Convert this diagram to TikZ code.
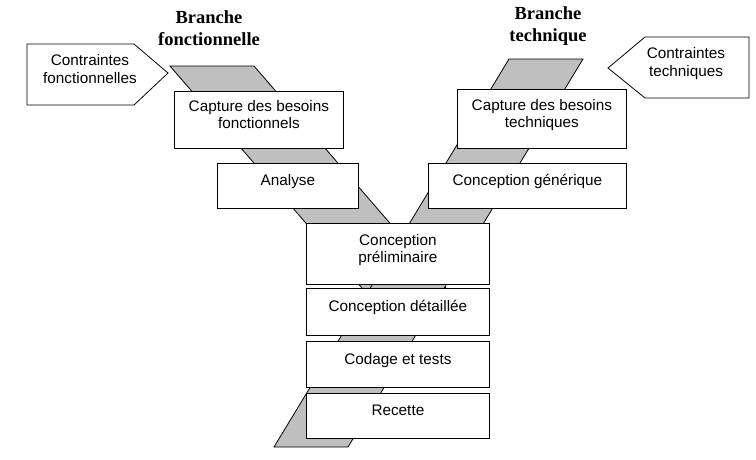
\documentclass[tikz,border=0pt]{standalone}
\usepackage{fontspec}
\setmainfont{Liberation Sans}
\newfontfamily\titlefont{Liberation Serif}
\usepackage{tikz}

\begin{document}
\begin{tikzpicture} [x=1pt, y=-1pt, line width=0.8pt]

\tikzset{stage/.style = {shape=rectangle,draw,fill=white,anchor=north west,align=center,inner sep=0pt,
  text height=11pt,text depth=11pt,font=\fontsize{15.3}{17.7}\selectfont}}
\tikzset{twoline/.style = {text height=28.7pt,text depth=11pt}}
\tikzset{band/.style = {draw,fill=gray!50}}
\tikzset{note/.style = {align=center,inner sep=0pt,font=\fontsize{15.3}{17.7}\selectfont}}
\tikzset{branch/.style = {align=center,inner sep=0pt,text height=35pt,text depth=13pt,
  font=\titlefont\bfseries\fontsize{18.5}{22}\selectfont}}
\useasboundingbox (0,0) rectangle (756,459);
% bands
\draw[band] (170,66) -- (254,66) -- (465,310) -- (381,310) -- cycle;
\draw[band] (509,59) -- (583,59) -- (348,447) -- (274,447) -- cycle;
% stages
\node[stage,twoline,minimum width=169,minimum height=57] (cbf) at (174,91) {Capture des besoins\\fonctionnels};
\node[stage,minimum width=141,minimum height=45] (ana) at (217,163) {Analyse};
\node[stage,twoline,minimum width=169,minimum height=59] (cbt) at (457,89) {Capture des besoins\\techniques};
\node[stage,minimum width=198,minimum height=45] (cg) at (428,163) {Conception générique};
\node[stage,twoline,minimum width=183,minimum height=61] (cp) at (306,223) {Conception\\préliminaire};
\node[stage,minimum width=183,minimum height=47] (cd) at (306,288) {Conception détaillée};
\node[stage,minimum width=183,minimum height=46] (ct) at (306,341) {Codage et tests};
\node[stage,minimum width=183,minimum height=45] (rec) at (306,393) {Recette};
% constraints
\draw (27,44) -- (134,44) -- (168,73) -- (134,105) -- (27,105) -- cycle;
\draw (749,37) -- (645,37) -- (608,68) -- (645,98) -- (749,98) -- cycle;
\node[note,twoline] (cf) at (90,74.4) {Contraintes\\fonctionnelles};
\node[note,twoline] (ctq) at (686,67.4) {Contraintes\\techniques};
% titles
\node[branch] (bf) at (209,34) {Branche\\fonctionnelle};
\node[branch] (bt) at (548,30) {Branche\\technique};

\end{tikzpicture}
\end{document}
